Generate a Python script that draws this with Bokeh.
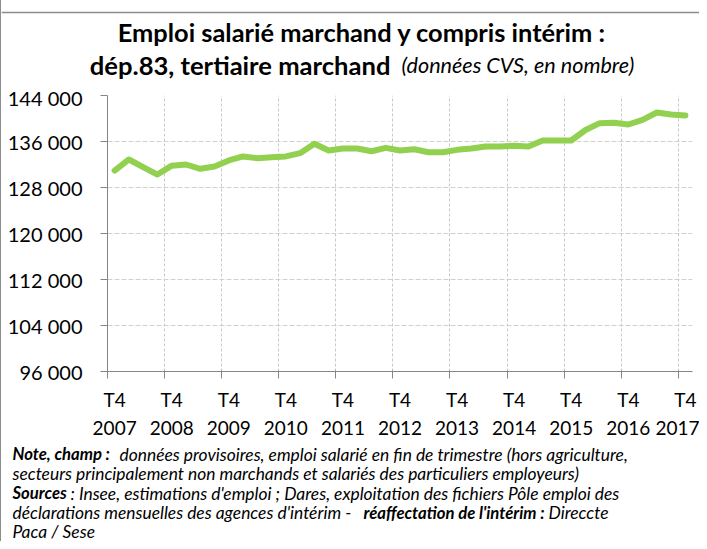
from bokeh.plotting import figure
from bokeh.layouts import column
from bokeh.models import FixedTicker, LinearAxis, Label, Range1d, Span, ColumnDataSource
from bokeh.embed import file_html
from bokeh.resources import INLINE

# ---- data ----
years = ["2007", "2008", "2009", "2010", "2011", "2012", "2013", "2014", "2015", "2016", "2017"]
quarter_tag = "T4"
values = [
    130950, 132870, 131550, 130250, 131800, 132000, 131250, 131650,
    132700, 133400, 133100, 133270, 133400, 133970, 135600, 134430,
    134780, 134780, 134300, 134900, 134430, 134660, 134140, 134140,
    134550, 134780, 135130, 135130, 135250, 135130, 136170, 136170,
    136170, 138000, 139190, 139250, 138960, 139770, 141040, 140700,
    140520,
]
y_ticks = [96000, 104000, 112000, 120000, 128000, 136000, 144000]
y_tick_labels = ["96 000", "104 000", "112 000", "120 000", "128 000", "136 000", "144 000"]

FONT = "Lato"
W = 698
H_TOP, H_MAIN, H_NOTES = 85, 358, 98
BORDER = "#8c8c8c"


def text_fig(h):
    f = figure(width=W, height=h, output_backend="svg", toolbar_location=None,
               x_range=Range1d(0, W), y_range=Range1d(h, 0),
               x_axis_location=None, y_axis_location=None,
               min_border=0, min_border_left=0, min_border_right=0,
               min_border_top=0, min_border_bottom=0, frame_align=False)
    f.grid.visible = False
    f.outline_line_color = None
    f.background_fill_color = "white"
    f.border_fill_color = "white"
    return f


def lab(f, text, x, y, size, style="normal", align="left"):
    f.add_layout(Label(x=x, y=y, text=text, text_font=FONT, text_font_size=size,
                       text_font_style=style, text_align=align, text_baseline="middle",
                       text_color="black"))


# ---- title block ----
top = text_fig(H_TOP)
top.add_layout(Span(location=12, dimension="width", line_color=BORDER, line_width=1.5))
lab(top, "Emploi salarié marchand y compris intérim :", 360.5, 31, "25.4px", "bold", "center")
lab(top, "dép.83, tertiaire marchand", 389, 64, "25.6px", "bold", "right")
lab(top, "(données CVS, en nombre)", 400, 64, "21.6px", "italic")

# ---- main chart ----
x = list(range(len(values)))
src = ColumnDataSource(dict(x=x, y=values))

p = figure(width=W, height=H_MAIN, output_backend="svg", toolbar_location=None,
           x_range=Range1d(-0.5, len(values) - 0.5), y_range=Range1d(96000, 144000),
           min_border_left=106, min_border_right=7, min_border_top=10, min_border_bottom=72,
           frame_align=False)
p.outline_line_color = None
p.background_fill_color = "white"
p.border_fill_color = "white"

p.line("x", "y", source=src, line_color="#92D050", line_width=6, line_join="round", line_cap="round")

yax = p.yaxis[0]
yax.ticker = FixedTicker(ticks=y_ticks)
yax.major_label_overrides = {t: l for t, l in zip(y_ticks, y_tick_labels)}
yax.minor_tick_line_color = None
yax.major_tick_out = 7
yax.major_tick_in = 0
yax.major_label_standoff = 18
yax.axis_line_color = "#868686"
yax.major_tick_line_color = "#868686"
yax.major_label_text_font = FONT
yax.major_label_text_font_size = "20px"
yax.major_label_text_color = "black"

label_pos = list(range(0, len(values), 4))
bounds = [i - 0.5 for i in range(0, len(values), 4)]
xax = p.xaxis[0]
xax.ticker = FixedTicker(ticks=label_pos, minor_ticks=bounds)
xax.major_label_overrides = {pos: quarter_tag for pos in label_pos}
xax.major_tick_out = 0
xax.major_tick_in = 0
xax.minor_tick_out = 7
xax.minor_tick_in = 1
xax.minor_tick_line_color = "#868686"
xax.axis_line_color = "#868686"
xax.major_label_standoff = 9
xax.major_label_text_font = FONT
xax.major_label_text_font_size = "19px"
xax.major_label_text_color = "black"

xax2 = LinearAxis(ticker=FixedTicker(ticks=label_pos))
xax2.major_label_overrides = {pos: y for pos, y in zip(label_pos, years)}
xax2.axis_line_color = None
xax2.major_tick_line_color = None
xax2.minor_tick_line_color = None
xax2.major_tick_out = 0
xax2.major_label_standoff = 7
xax2.major_label_text_font = FONT
xax2.major_label_text_font_size = "19px"
xax2.major_label_text_color = "black"
p.add_layout(xax2, "below")

p.ygrid.ticker = FixedTicker(ticks=y_ticks[1:])
p.ygrid.grid_line_color = "#d0d0d0"
p.ygrid.grid_line_dash = "5 2"
p.xgrid.ticker = FixedTicker(ticks=bounds[1:])
p.xgrid.grid_line_color = "#c8c8c8"
p.xgrid.grid_line_dash = "3 2"

# ---- notes ----
notes = text_fig(H_NOTES)
NI = "17.4px"
NB = "16.7px"
ys = [10.5, 30, 49.5, 69, 87.5]
lab(notes, "Note, champ :", 11, ys[0], NB, "bold italic")
lab(notes, "données provisoires, emploi salarié en fin de trimestre (hors agriculture,", 118, ys[0], NI, "italic")
lab(notes, "secteurs principalement non marchands et salariés des particuliers employeurs)", 11, ys[1], NI, "italic")
lab(notes, "Sources", 11, ys[2], NB, "bold italic")
lab(notes, ": Insee, estimations d'emploi ; Dares, exploitation des fichiers Pôle emploi des", 69, ys[2], NI, "italic")
lab(notes, "déclarations mensuelles des agences d'intérim -", 11, ys[3], NI, "italic")
lab(notes, "réaffectation de l'intérim :", 362, ys[3], NB, "bold italic")
lab(notes, "Direccte", 547, ys[3], NI, "italic")
lab(notes, "Paca / Sese", 11, ys[4], NI, "italic")

layout = column(top, p, notes, spacing=0)
layout.styles = {"border-left": "1px solid " + BORDER}

open("out.html", "w").write(file_html(layout, INLINE))
